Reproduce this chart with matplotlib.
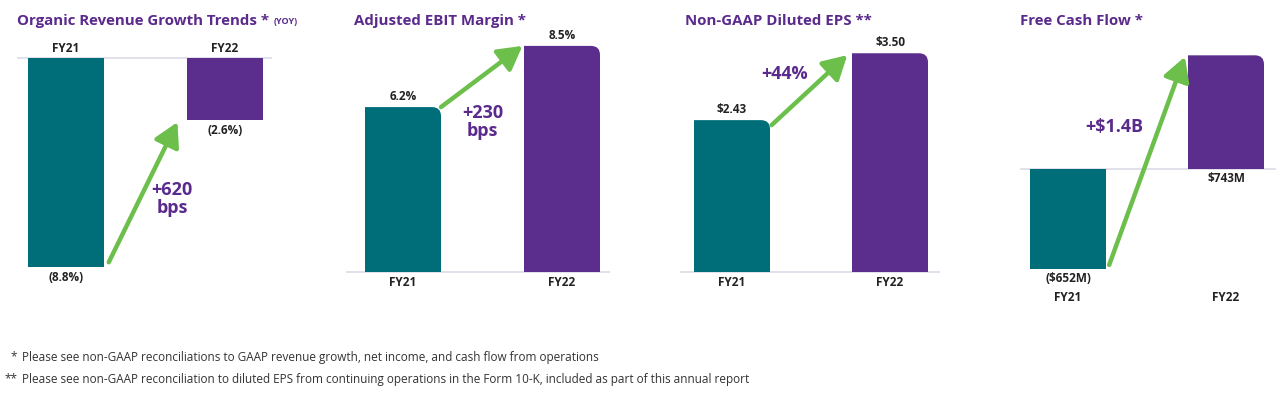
import matplotlib
matplotlib.use("Agg")
import matplotlib.pyplot as plt
from matplotlib.path import Path
from matplotlib.patches import PathPatch

plt.rcParams["font.family"] = ["Open Sans", "DejaVu Sans"]

# data
categories = ["FY21", "FY22"]
organic_growth = [-8.8, -2.6]
organic_labels = ["(8.8%)", "(2.6%)"]
ebit_margin = [6.2, 8.5]
ebit_labels = ["6.2%", "8.5%"]
eps = [2.43, 3.50]
eps_labels = ["$2.43", "$3.50"]
fcf = [-652, 743]
fcf_labels = ["($652M)", "$743M"]

titles = ["Organic Revenue Growth Trends *", "Adjusted EBIT Margin *",
          "Non-GAAP Diluted EPS **", "Free Cash Flow *"]
changes = ["+620\nbps", "+230\nbps", "+44%", "+$1.4B"]
footnotes = [("*", "Please see non-GAAP reconciliations to GAAP revenue growth, net income, and cash flow from operations"),
             ("**", "Please see non-GAAP reconciliation to diluted EPS from continuing operations in the Form 10-K, included as part of this annual report")]

TEAL = "#006E78"
PURPLE = "#5B2E8E"
TITLE = "#5A2A8C"
GREEN = "#6BBF4A"
LINE = "#DCDCE8"
DARK = "#222222"

W, H = 1280, 394
fig = plt.figure(figsize=(12.8, 3.94), dpi=100)


def make_axes(left, right, c0, spacing, zero, ppu, top=30, bottom=300):
    ax = fig.add_axes([left / W, 1 - bottom / H, (right - left) / W, (bottom - top) / H])
    ax.set_xlim((left - c0) / spacing, (right - c0) / spacing)
    ax.set_ylim((zero - bottom) / ppu, (zero - top) / ppu)
    ax.axis("off")
    ax.axhline(0, color=LINE, lw=1.2, zorder=1)
    return ax, 76 / spacing, 9 / spacing, 9 / ppu


def rounded(ax, bar, rx, ry):
    # swap a bar for one with a rounded top-right corner
    x, y = bar.get_x(), bar.get_y()
    w, h = bar.get_width(), bar.get_height()
    verts = [(x, y), (x + w, y), (x + w, y + h - ry), (x + w, y + h),
             (x + w - rx, y + h), (x, y + h), (x, y)]
    codes = [Path.MOVETO, Path.LINETO, Path.LINETO, Path.CURVE3,
             Path.CURVE3, Path.LINETO, Path.CLOSEPOLY]
    bar.set_visible(False)
    ax.add_patch(PathPatch(Path(verts, codes), facecolor=bar.get_facecolor(),
                           edgecolor="none", zorder=2))


def arrow(ax, start, end):
    ax.annotate("", xy=end, xytext=start,
                arrowprops=dict(arrowstyle="-|>,head_width=0.45,head_length=0.8",
                                color=GREEN, lw=3.2, shrinkA=0, shrinkB=0,
                                mutation_scale=18), zorder=3)


def big(ax, x, y, s):
    ax.text(x, y, s, ha="center", va="center", fontsize=13, fontweight="bold",
            color=TITLE, linespacing=0.95, zorder=4)


def lbl(ax, x, y, s, dy, va):
    ax.annotate(s, (x, y), xytext=(0, dy), textcoords="offset points", ha="center",
                va=va, fontsize=8.5, fontweight="bold", color=DARK)


xs = [0, 1]
colors = [TEAL, PURPLE]

# panel 1: organic revenue growth
ax1, bw, rx, ry = make_axes(17, 272, 66, 159, 58, 23.75)
bars = ax1.bar(xs, organic_growth, width=bw, color=colors, zorder=2)
for x, v, s, c in zip(xs, organic_growth, organic_labels, categories):
    lbl(ax1, x, v, s, -3, "top")
    lbl(ax1, x, 0, c, 2, "bottom")
arrow(ax1, (bw / 2 + 0.03, organic_growth[0] + 0.2), (1 - bw / 2 - 0.06, organic_growth[1] - 0.1))
big(ax1, 0.667, -5.94, changes[0])

# panel 2: adjusted EBIT margin
ax2, bw, rx, ry = make_axes(346, 610, 403, 159, 272, 26.6)
bars = ax2.bar(xs, ebit_margin, width=bw, color=colors, zorder=2)
for b in bars:
    rounded(ax2, b, rx, ry)
for x, v, s, c in zip(xs, ebit_margin, ebit_labels, categories):
    lbl(ax2, x, v, s, 3, "bottom")
    lbl(ax2, x, 0, c, -3, "top")
arrow(ax2, (bw / 2, ebit_margin[0]), (1 - bw / 2 - 0.01, ebit_margin[1]))
big(ax2, 0.5, 5.64, changes[1])

# panel 3: non-GAAP diluted EPS
ax3, bw, rx, ry = make_axes(680, 940, 732, 158, 272, 62.5)
bars = ax3.bar(xs, eps, width=bw, color=colors, zorder=2)
for b in bars:
    rounded(ax3, b, rx, ry)
for x, v, s, c in zip(xs, eps, eps_labels, categories):
    lbl(ax3, x, v, s, 3, "bottom")
    lbl(ax3, x, 0, c, -3, "top")
arrow(ax3, (bw / 2 + 0.01, eps[0] - 0.08), (1 - bw / 2 - 0.03, eps[1] - 0.03))
big(ax3, 0.334, 3.17, changes[2])

# panel 4: free cash flow
ax4, bw, rx, ry = make_axes(1020, 1276, 1068, 158, 169, 0.153)
bars = ax4.bar(xs, fcf, width=bw, color=colors, zorder=2)
rounded(ax4, bars[1], rx, ry)
lbl(ax4, 0, fcf[0], fcf_labels[0], -2, "top")
lbl(ax4, 1, 0, fcf_labels[1], -2, "top")
for x, c in zip(xs, categories):
    lbl(ax4, x, fcf[0], c, -16, "top")
arrow(ax4, (bw / 2 + 0.02, fcf[0] + 25), (1 - bw / 2 - 0.02, fcf[1] - 10))
big(ax4, 0.29, 275, changes[3])

# titles
for tx, t in zip([17, 354, 685, 1020], titles):
    tt = fig.text(tx / W, 1 - 21 / H, t, fontsize=10.8, fontweight="bold",
                  color=TITLE, va="center", ha="left")
    if t.startswith("Organic"):
        fig.add_artist(plt.Annotation("(YOY)", xy=(1, 0.12), xycoords=tt, xytext=(3, 0),
                                      textcoords="offset points", fontsize=6.5,
                                      fontweight="bold", color=TITLE,
                                      va="bottom", ha="left"))

# footnotes
for y, (mark, note) in zip([357, 379], footnotes):
    fig.text(17 / W, 1 - y / H, mark, fontsize=8.5, color="#333333", ha="right", va="center")
    fig.text(22 / W, 1 - y / H, note, fontsize=8.5, color="#333333", ha="left", va="center")

fig.savefig("out.png", dpi=100, facecolor="white")
